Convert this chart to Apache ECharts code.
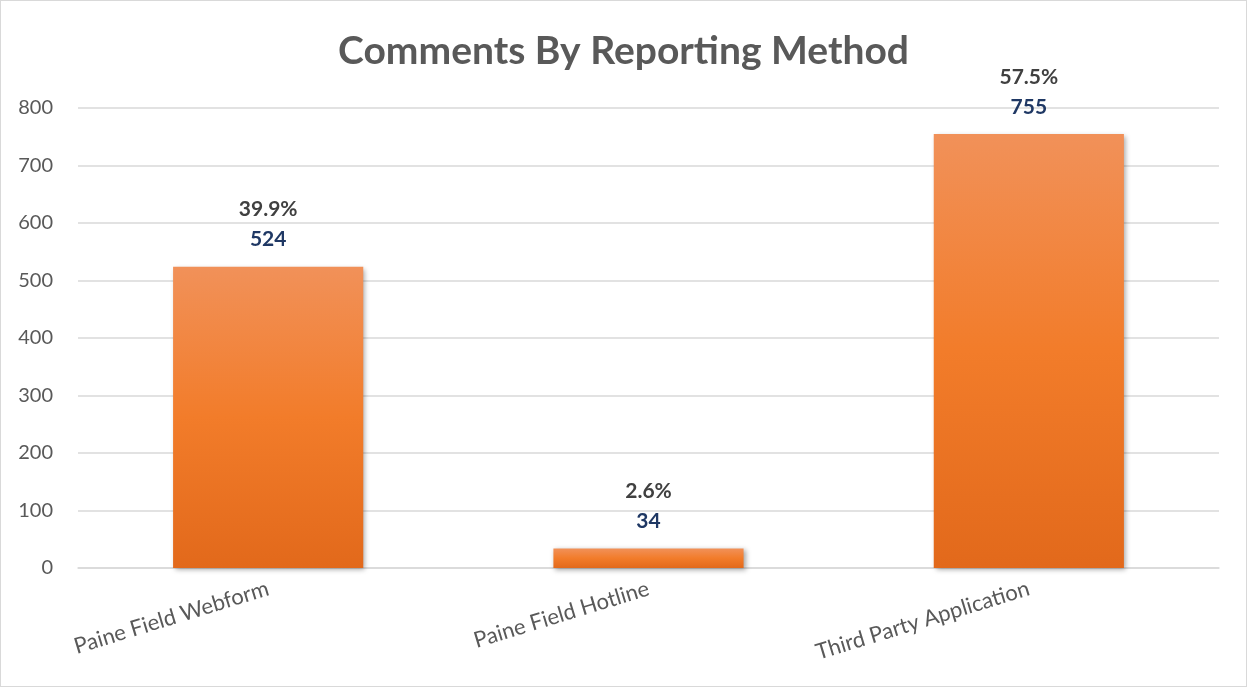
<!DOCTYPE html>
<html>
<head>
<meta charset="utf-8">
<script src="https://cdn.jsdelivr.net/npm/echarts@6/dist/echarts.min.js"></script>
<style>
html,body{margin:0;padding:0;background:#fff;}
#chart{width:1245px;height:685px;border:1px solid #d9d9d9;}
</style>
</head>
<body>
<div id="chart"></div>
<script>
const categories = ["Paine Field Webform", "Paine Field Hotline", "Third Party Application"];
const counts = [524, 34, 755];
const percentLabels = ["39.9%", "2.6%", "57.5%"];
const yTicks = [0, 100, 200, 300, 400, 500, 600, 700, 800];

const chart = echarts.init(document.getElementById('chart'));
const font = 'Lato, "Open Sans", sans-serif';
chart.setOption({
  animation: false,
  title: {
    text: 'Comments By Reporting Method',
    left: 'center',
    top: 26,
    textStyle: {fontFamily: font, fontSize: 39, fontWeight: 'bold', color: '#595959'}
  },
  grid: {left: 77, right: 27, top: 107, bottom: 118},
  xAxis: {
    type: 'category',
    data: categories,
    axisLine: {lineStyle: {color: '#d9d9d9', width: 1.5}},
    axisTick: {show: false},
    axisLabel: {rotate: 17, fontFamily: font, fontSize: 22, color: '#595959', margin: 20}
  },
  yAxis: {
    type: 'value',
    min: yTicks[0],
    max: yTicks[yTicks.length - 1],
    interval: 100,
    axisLine: {show: false},
    axisTick: {show: false},
    splitLine: {lineStyle: {color: '#d9d9d9', width: 1.5}},
    axisLabel: {fontFamily: font, fontSize: 20, color: '#595959', margin: 25}
  },
  series: [{
    type: 'bar',
    data: counts,
    barWidth: '50%',
    itemStyle: {
      color: new echarts.graphic.LinearGradient(0, 0, 0, 1, [
        {offset: 0, color: '#F19159'},
        {offset: 0.5, color: '#F27C2A'},
        {offset: 1, color: '#E2691B'}
      ]),
      shadowColor: 'rgba(0,0,0,0.35)',
      shadowBlur: 5,
      shadowOffsetX: 2,
      shadowOffsetY: 2
    },
    label: {
      show: true,
      position: 'top',
      distance: 12,
      formatter: function (p) { return '{p|' + percentLabels[p.dataIndex] + '}\n{v|' + p.value + '}'; },
      rich: {
        p: {fontFamily: font, fontSize: 21, fontWeight: 'bold', color: '#404040', lineHeight: 30},
        v: {fontFamily: font, fontSize: 21, fontWeight: 'bold', color: '#1F3864', lineHeight: 30}
      }
    }
  }]
});
</script>
</body>
</html>
